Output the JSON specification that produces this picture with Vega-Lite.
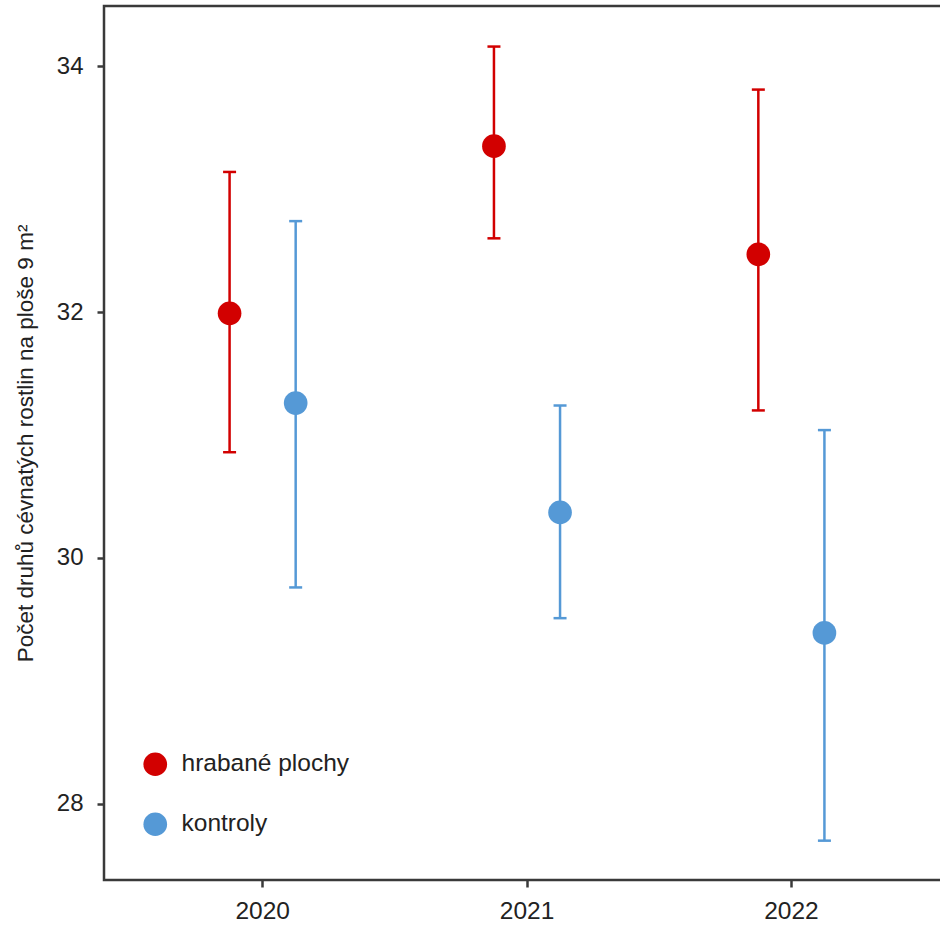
{
  "$schema": "https://vega.github.io/schema/vega-lite/v6.json",
  "autosize": "none",
  "padding": {"left": 104, "top": 6, "right": 0, "bottom": 45},
  "width": 846,
  "height": 874,
  "background": "white",
  "config": {
    "font": "Liberation Sans",
    "view": {"stroke": "#3a3a3a", "strokeWidth": 2.5},
    "axis": {"labelFont": "Liberation Sans", "titleFont": "Liberation Sans", "labelColor": "#222", "titleColor": "#222", "domain": false, "grid": false, "tickColor": "#3a3a3a", "tickWidth": 2.5, "tickSize": 7}
  },
  "data": {
    "values": [
      {"rok": "2020", "skupina": "hrabané plochy", "prumer": 31.99, "dolni": 30.86, "horni": 33.14},
      {"rok": "2020", "skupina": "kontroly", "prumer": 31.26, "dolni": 29.76, "horni": 32.74},
      {"rok": "2021", "skupina": "hrabané plochy", "prumer": 33.35, "dolni": 32.60, "horni": 34.16},
      {"rok": "2021", "skupina": "kontroly", "prumer": 30.37, "dolni": 29.51, "horni": 31.24},
      {"rok": "2022", "skupina": "hrabané plochy", "prumer": 32.47, "dolni": 31.20, "horni": 33.81},
      {"rok": "2022", "skupina": "kontroly", "prumer": 29.39, "dolni": 27.70, "horni": 31.04}
    ]
  },
  "encoding": {
    "x": {"field": "rok", "type": "ordinal", "scale": {"paddingInner": 0, "paddingOuter": 0.1},
      "axis": {"title": null, "labelAngle": 0, "labelFontSize": 24.5, "labelPadding": 12}},
    "xOffset": {"field": "skupina", "type": "nominal", "scale": {"paddingInner": 0, "paddingOuter": 1}},
    "color": {"field": "skupina", "type": "nominal",
      "scale": {"domain": ["hrabané plochy", "kontroly"], "range": ["#d20000", "#5599d6"]},
      "legend": {"title": null, "orient": "none", "legendX": 39, "legendY": 746, "symbolType": "circle", "symbolSize": 560, "symbolOpacity": 1, "symbolStrokeWidth": 0, "labelFontSize": 24.5, "labelFont": "Liberation Sans", "labelColor": "#222", "labelOffset": 14, "labelLimit": 500, "rowPadding": 34}}
  },
  "layer": [
    {
      "mark": {"type": "rule", "strokeWidth": 2.5},
      "encoding": {
        "y": {"field": "dolni", "type": "quantitative"},
        "y2": {"field": "horni"}
      }
    },
    {
      "mark": {"type": "tick", "size": 13, "thickness": 2.5, "opacity": 1},
      "encoding": {
        "y": {"field": "dolni", "type": "quantitative"}
      }
    },
    {
      "mark": {"type": "tick", "size": 13, "thickness": 2.5, "opacity": 1},
      "encoding": {
        "y": {"field": "horni", "type": "quantitative"}
      }
    },
    {
      "mark": {"type": "circle", "size": 560, "opacity": 1},
      "encoding": {
        "y": {"field": "prumer", "type": "quantitative",
          "scale": {"domain": [27.38, 34.49], "nice": false, "zero": false},
          "axis": {"title": "Počet druhů cévnatých rostlin na ploše 9 m²", "values": [28, 30, 32, 34], "format": "d", "labelFontSize": 24, "labelPadding": 14, "titleFontSize": 22.5, "titleFontWeight": "normal", "titlePadding": 19}}
      }
    }
  ]
}
